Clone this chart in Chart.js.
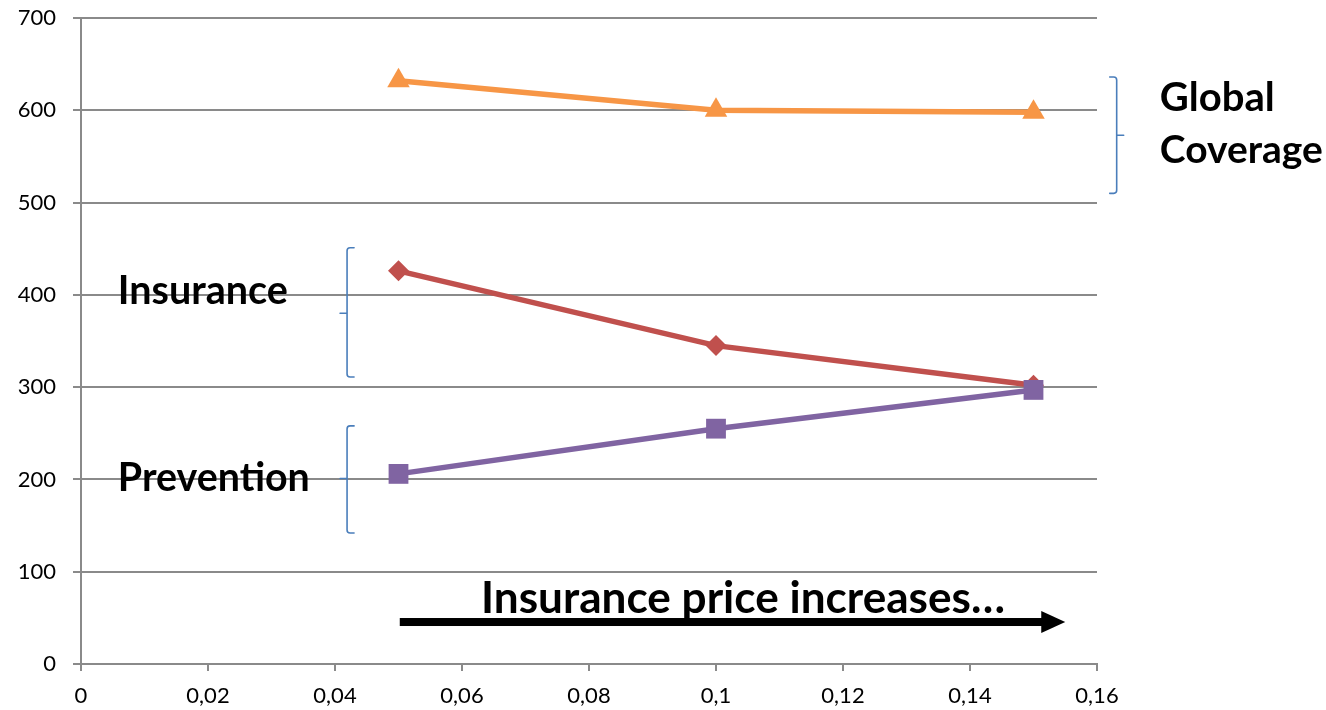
<!DOCTYPE html>
<html>
<head>
<meta charset="utf-8">
<script src="https://cdn.jsdelivr.net/npm/chart.js@4/dist/chart.umd.min.js"></script>
<style>
  html, body { margin: 0; padding: 0; background: #ffffff; }
  #wrap { width: 1326px; height: 710px; position: relative; }
</style>
</head>
<body>
<div id="wrap"><canvas id="chart" width="1326" height="710"></canvas></div>
<script>
// Insurance price levels (x) and resulting amounts per series
const priceLevels = [0.05, 0.1, 0.15];
const globalCoverage = [632, 600, 598];
const insurance = [426, 345, 302];
const prevention = [206, 255, 297];

// Axis ticks
const xTickValues = [0, 0.02, 0.04, 0.06, 0.08, 0.1, 0.12, 0.14, 0.16];
const xTickLabels = ['0', '0,02', '0,04', '0,06', '0,08', '0,1', '0,12', '0,14', '0,16'];
const yTickValues = [0, 100, 200, 300, 400, 500, 600, 700];
const yTickLabels = ['0', '100', '200', '300', '400', '500', '600', '700'];

const FONT = 'Lato, "Open Sans", "DejaVu Sans", sans-serif';
const GRID = '#8a8a8a';
const BRACKET = '#4a7ebb';

function points(ys) {
  return priceLevels.map((x, i) => ({ x: x, y: ys[i] }));
}

// Side annotations: bracket marks, bold labels and the price arrow,
// all placed in data coordinates through the chart scales.
const annotationPlugin = {
  id: 'sideNotes',
  afterDraw(chart, args, opts) {
    const ctx = chart.ctx;
    const xs = chart.scales.x, ys = chart.scales.y;
    ctx.save();

    // brackets
    ctx.strokeStyle = BRACKET;
    ctx.lineWidth = 1.6;
    ctx.lineCap = 'round';
    opts.brackets.forEach(b => {
      const px = xs.getPixelForValue(b.x);
      const top = ys.getPixelForValue(b.top);
      const bot = ys.getPixelForValue(b.bottom);
      const mid = ys.getPixelForValue(b.mid);
      const d = b.open === 'right' ? 1 : -1;
      const arm = 7, r = 3;
      ctx.beginPath();
      ctx.moveTo(px + d * arm, top);
      ctx.lineTo(px + d * r, top);
      ctx.quadraticCurveTo(px, top, px, top + r);
      ctx.lineTo(px, bot - r);
      ctx.quadraticCurveTo(px, bot, px + d * r, bot);
      ctx.lineTo(px + d * arm, bot);
      ctx.moveTo(px, mid);
      ctx.lineTo(px - d * arm, mid);
      ctx.stroke();
    });

    // arrow
    const a = opts.arrow;
    const ax0 = xs.getPixelForValue(a.from);
    const ax1 = xs.getPixelForValue(a.to);
    const ay = ys.getPixelForValue(a.y);
    ctx.fillStyle = '#000000';
    ctx.fillRect(ax0, ay - 4, ax1 - 22 - ax0, 8);
    ctx.beginPath();
    ctx.moveTo(ax1 - 24, ay - 11);
    ctx.lineTo(ax1, ay);
    ctx.lineTo(ax1 - 24, ay + 11);
    ctx.closePath();
    ctx.fill();

    // bold labels, sized to their set width
    ctx.textBaseline = 'middle';
    ctx.textAlign = 'left';
    opts.labels.forEach(l => {
      ctx.font = 'bold 40px ' + FONT;
      const w = ctx.measureText(l.text).width;
      const size = 40 * l.width / w;
      ctx.font = 'bold ' + size.toFixed(2) + 'px ' + FONT;
      ctx.fillStyle = '#000000';
      ctx.fillText(l.text, xs.getPixelForValue(l.x), ys.getPixelForValue(l.y));
    });
    ctx.restore();
  }
};

new Chart(document.getElementById('chart'), {
  type: 'line',
  data: {
    datasets: [
      {
        label: 'Prevention',
        data: points(prevention),
        borderColor: '#8064A2',
        backgroundColor: '#8064A2',
        borderWidth: 5.5,
        pointStyle: 'rect',
        pointRadius: 14,
        pointBorderWidth: 0
      },
      {
        label: 'Insurance',
        data: points(insurance),
        borderColor: '#C0504D',
        backgroundColor: '#C0504D',
        borderWidth: 5.5,
        pointStyle: 'rectRot',
        pointRadius: 10.5,
        pointBorderWidth: 0
      },
      {
        label: 'Global Coverage',
        data: points(globalCoverage),
        borderColor: '#F79646',
        backgroundColor: '#F79646',
        borderWidth: 5.5,
        pointStyle: 'triangle',
        pointRadius: 13,
        pointBorderWidth: 0
      }
    ]
  },
  options: {
    responsive: false,
    animation: false,
    events: [],
    layout: { autoPadding: false, padding: { left: 0, right: 229, top: 18, bottom: 0 } },
    plugins: {
      legend: { display: false },
      tooltip: { enabled: false },
      sideNotes: {
        brackets: [
          { x: 0.0419, top: 451, bottom: 311, mid: 380, open: 'right' },
          { x: 0.0419, top: 258, bottom: 142, mid: 201, open: 'right' },
          { x: 0.1631, top: 636, bottom: 510, mid: 573, open: 'left' }
        ],
        arrow: { from: 0.0502, to: 0.155, y: 45.5 },
        labels: [
          { text: 'Insurance', x: 0.0058, y: 404, width: 170 },
          { text: 'Prevention', x: 0.0058, y: 201, width: 192 },
          { text: 'Global', x: 0.1699, y: 613, width: 115 },
          { text: 'Coverage', x: 0.1699, y: 557, width: 163 },
          { text: 'Insurance price increases\u2026', x: 0.0630, y: 71, width: 524 }
        ]
      }
    },
    scales: {
      x: {
        type: 'linear',
        min: 0,
        max: 0.16,
        afterBuildTicks: s => { s.ticks = xTickValues.map(v => ({ value: v })); },
        afterFit: s => { s.height = 46; },
        grid: { drawOnChartArea: false, drawTicks: true, tickLength: 7, color: GRID, lineWidth: 2 },
        border: { color: GRID, width: 2 },
        ticks: {
          color: '#000000',
          font: { family: FONT, size: 22 },
          padding: 12,
          maxRotation: 0,
          autoSkip: false,
          callback: (v, i) => xTickLabels[i]
        }
      },
      y: {
        type: 'linear',
        min: 0,
        max: 700,
        afterBuildTicks: s => { s.ticks = yTickValues.map(v => ({ value: v })); },
        afterFit: s => { s.width = 81; s.paddingTop = 0; s.paddingBottom = 0; },
        grid: { drawOnChartArea: true, drawTicks: true, tickLength: 8, color: GRID, lineWidth: 2 },
        border: { color: GRID, width: 2 },
        ticks: {
          color: '#000000',
          font: { family: FONT, size: 22 },
          padding: 17,
          autoSkip: false,
          callback: (v, i) => yTickLabels[i]
        }
      }
    }
  },
  plugins: [annotationPlugin]
});
</script>
</body>
</html>
